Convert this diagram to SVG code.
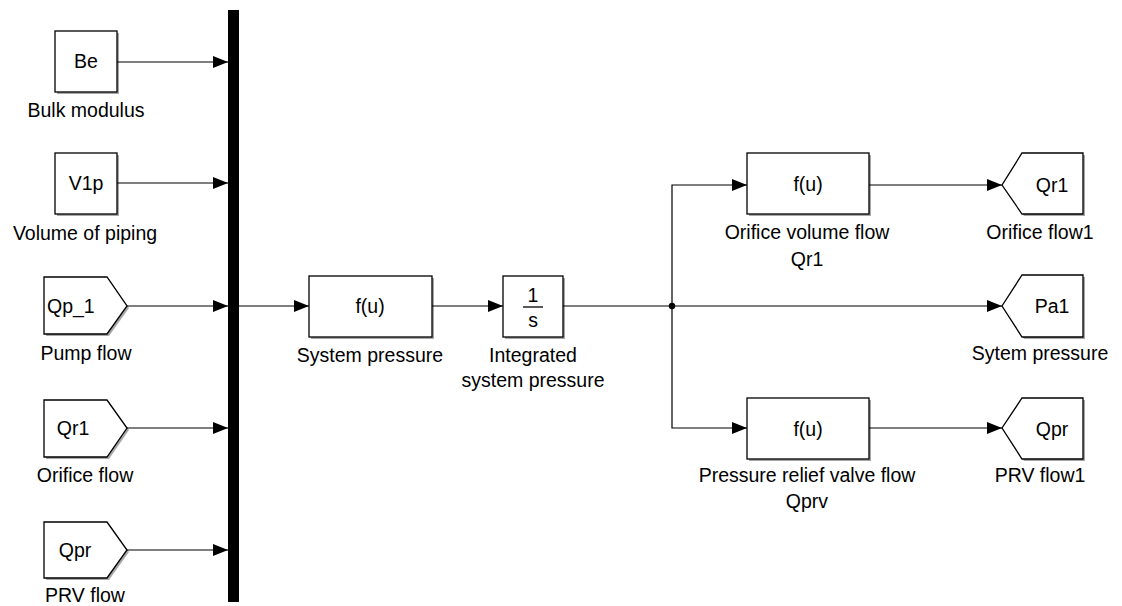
<svg xmlns="http://www.w3.org/2000/svg" width="1122" height="606" viewBox="0 0 1122 606">
<style>
.blk{fill:#fff;stroke:#000;stroke-width:1.3}
.sh{fill:#a8a8a8}
.w{stroke:#000;stroke-width:1.2;fill:none}
text{font-family:"Liberation Sans",Arial,sans-serif;font-size:19.5px;fill:#000}
.c{text-anchor:middle}
</style>
<defs>
<marker id="a" markerWidth="15" markerHeight="12" refX="15" refY="6" orient="auto" markerUnits="userSpaceOnUse">
<path d="M0,0 L15,6 L0,12 z" fill="#000"/>
</marker>
</defs>
<rect width="1122" height="606" fill="#fff"/>

<g id="mux"><rect x="228" y="10" width="11" height="592" fill="#000"/></g>

<g id="be"><rect class="sh" x="57" y="33" width="62" height="61"/><rect class="blk" x="55" y="31" width="62" height="61"/><text class="c" x="86" y="68">Be</text><text class="c" x="86" y="117">Bulk modulus</text></g>
<g id="v1p"><rect class="sh" x="57" y="155" width="62" height="61"/><rect class="blk" x="55" y="153" width="62" height="61"/><text class="c" x="86" y="190">V1p</text><text class="c" x="85" y="240">Volume of piping</text></g>
<g id="qp1"><path class="sh" d="M46,279 H109 L129,308 L109,336 H46 Z"/><path class="blk" d="M44,277 H107 L127,306 L107,334 H44 Z"/><text x="47" y="313">Qp_1</text><text class="c" x="86" y="360">Pump flow</text></g>
<g id="qr1in"><path class="sh" d="M46,402 H109 L129,430 L109,459 H46 Z"/><path class="blk" d="M44,400 H107 L127,428 L107,457 H44 Z"/><text class="c" x="73" y="435">Qr1</text><text class="c" x="85" y="482">Orifice flow</text></g>
<g id="qprin"><path class="sh" d="M46,524 H109 L129,552 L109,580 H46 Z"/><path class="blk" d="M44,522 H107 L127,550 L107,578 H44 Z"/><text class="c" x="75" y="557">Qpr</text><text class="c" x="85" y="602">PRV flow</text></g>

<g id="syspress"><rect class="sh" x="311" y="278" width="123" height="61"/><rect class="blk" x="309" y="276" width="123" height="61"/><text class="c" x="370" y="313">f(u)</text><text class="c" x="370" y="362">System pressure</text></g>
<g id="integ"><rect class="sh" x="505" y="278" width="60" height="61"/><rect class="blk" x="503" y="276" width="60" height="61"/><text class="c" x="533" y="302">1</text><line x1="523" y1="307" x2="543" y2="307" stroke="#000" stroke-width="1.3"/><text class="c" x="533" y="327">s</text><text class="c" x="533" y="362">Integrated</text><text class="c" x="533" y="387">system pressure</text></g>

<g id="orifice"><rect class="sh" x="749" y="155" width="122" height="61"/><rect class="blk" x="747" y="153" width="122" height="61"/><text class="c" x="808" y="191">f(u)</text><text class="c" x="807" y="239">Orifice volume flow</text><text class="c" x="807" y="266">Qr1</text></g>
<g id="prv"><rect class="sh" x="749" y="400" width="122" height="61"/><rect class="blk" x="747" y="398" width="122" height="61"/><text class="c" x="808" y="436">f(u)</text><text class="c" x="807" y="482">Pressure relief valve flow</text><text class="c" x="807" y="508">Qprv</text></g>

<g id="qr1out"><path class="sh" d="M1024,155 H1085 V216 H1024 L1004,187 Z"/><path class="blk" d="M1022,153 H1083 V214 H1022 L1002,185 Z"/><text class="c" x="1052" y="192">Qr1</text><text class="c" x="1040" y="239">Orifice flow1</text></g>
<g id="pa1"><path class="sh" d="M1024,277 H1085 V339 H1024 L1004,308 Z"/><path class="blk" d="M1022,275 H1083 V337 H1022 L1002,306 Z"/><text class="c" x="1052" y="313">Pa1</text><text class="c" x="1040" y="360">Sytem pressure</text></g>
<g id="qprout"><path class="sh" d="M1024,400 H1085 V461 H1024 L1004,430 Z"/><path class="blk" d="M1022,398 H1083 V459 H1022 L1002,428 Z"/><text class="c" x="1052" y="436">Qpr</text><text class="c" x="1040" y="482">PRV flow1</text></g>

<g id="connectors">
<line class="w" x1="117" y1="62" x2="228" y2="62" marker-end="url(#a)"/>
<line class="w" x1="117" y1="183" x2="228" y2="183" marker-end="url(#a)"/>
<line class="w" x1="127" y1="306" x2="228" y2="306" marker-end="url(#a)"/>
<line class="w" x1="127" y1="428" x2="228" y2="428" marker-end="url(#a)"/>
<line class="w" x1="127" y1="550" x2="228" y2="550" marker-end="url(#a)"/>
<line class="w" x1="239" y1="306" x2="309" y2="306" marker-end="url(#a)"/>
<line class="w" x1="432" y1="306" x2="503" y2="306" marker-end="url(#a)"/>
<line class="w" x1="563" y1="306" x2="1002" y2="306" marker-end="url(#a)"/>
<path class="w" d="M672,306 V185 H747" marker-end="url(#a)"/>
<path class="w" d="M672,306 V428 H747" marker-end="url(#a)"/>
<line class="w" x1="869" y1="185" x2="1002" y2="185" marker-end="url(#a)"/>
<line class="w" x1="869" y1="428" x2="1002" y2="428" marker-end="url(#a)"/>
<circle cx="672" cy="306" r="3.2" fill="#000"/>
</g>
</svg>
